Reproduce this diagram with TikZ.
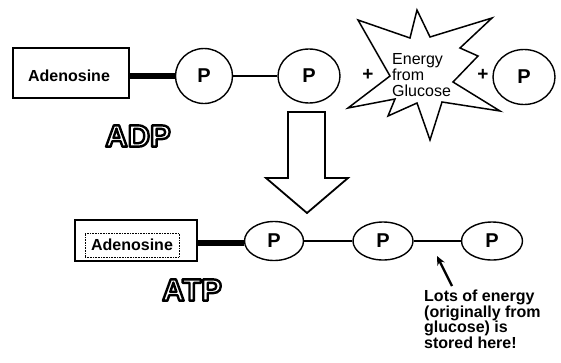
\documentclass[tikz,border=0pt]{standalone}
\usepackage{fontspec}
\setmainfont{Liberation Sans}
\usetikzlibrary{arrows.meta,shapes.geometric}
\tikzset{
  pball/.style={draw, ellipse, line width=1.4pt, inner sep=0pt,
    font=\fontsize{20}{22}\selectfont\bfseries},
  adbox/.style={draw, rectangle, line width=1.5pt, inner sep=0pt},
  adtext/.style={font=\fontsize{16}{18}\selectfont\bfseries, inner sep=0pt},
  bigtxt/.style={font=\fontsize{31}{33}\selectfont\bfseries, inner sep=0pt},
  heavybond/.style={line width=5.5pt},
  thinbond/.style={line width=1.6pt},
  plussign/.style={font=\fontsize{19}{20}\selectfont\bfseries, inner sep=0pt},
  note/.style={font=\fontsize{16}{15.5}\selectfont\bfseries, align=left, inner sep=0pt},
}
\newcommand{\hollowtext}[1]{%
  \special{pdf:literal direct 1 Tr 2.4 w 1 j}#1\special{pdf:literal direct 0 Tr}}
\begin{document}
\begin{tikzpicture}[x=1pt,y=-1pt]
\useasboundingbox[fill=white] (0,0) rectangle (561,362);

% ---------- top row: ADP ----------
\node[adbox, minimum width=116pt, minimum height=50pt] (adA) at (71,73) {};
\node[adtext] (adAt) at (69,76) {Adenosine};
\node[pball, minimum width=57pt, minimum height=55pt] (pA1) at (204,76) {P};
\node[pball, minimum width=62pt, minimum height=54pt] (pA2) at (309,76) {P};
\draw[heavybond] (adA.east |- pA1) -- (pA1.west);
\draw[thinbond] (pA1.east) -- (pA2.west);

\node[plussign] (plus1) at (368,75) {+};
% star
\draw[line width=1.5pt, line join=miter] (417,10) -- (430,37) -- (492,18) -- (460,48) -- (478,56)
  -- (453,82) -- (500,111) -- (442,102) -- (430,140) -- (417,103) -- (388,116)
  -- (395,99) -- (348,108) -- (390,76) -- (358,20) -- (410,38) -- cycle;
\node[font=\fontsize{16}{16}\selectfont, align=left, inner sep=0pt, anchor=north west]
  (energy) at (392,53) {Energy\\from\\Glucose};
\node[plussign] (plus2) at (483,75) {+};
\node[pball, minimum width=62pt, minimum height=55pt] (pA3) at (524,77) {P};

\node[bigtxt] (adp) at (138,136) {\hollowtext{ADP}};

% ---------- big arrow ----------
\draw[line width=1.8pt, line join=miter, fill=white]
  (288,112) -- (325,112) -- (325,178) -- (348,178) -- (307,213) -- (266,178) -- (288,178) -- cycle;

% ---------- bottom row: ATP ----------
\node[adbox, line width=2.2pt, minimum width=122pt, minimum height=41pt] (adB) at (136,240.5) {};
\node[adtext, draw, densely dotted, line width=0.6pt, minimum width=94pt, minimum height=24pt]
  (adBt) at (132,245) {Adenosine};
\node[pball, minimum width=59pt, minimum height=39pt] (pB1) at (274,241) {P};
\node[pball, minimum width=60pt, minimum height=38pt] (pB2) at (383,241) {P};
\node[pball, minimum width=61pt, minimum height=38pt] (pB3) at (492,241) {P};
\draw[heavybond] (adB.east |- 0,243) -- (pB1.west |- 0,243);
\draw[line width=2.2pt] (pB1.east) -- (pB2.west);
\draw[line width=2.8pt] (pB2.east) -- (pB3.west);

\node[bigtxt] (atp) at (192,290) {\hollowtext{ATP}};

\node[note, anchor=north west] (lots) at (424,290)
  {Lots of energy\\(originally from\\glucose) is\\stored here!};
\coordinate (tail) at (452,286);
\coordinate (tip) at (437,256);
\draw[line width=2.4pt, -{Stealth[length=9pt,width=8pt]}] (tail) -- (tip);
\end{tikzpicture}
\end{document}
